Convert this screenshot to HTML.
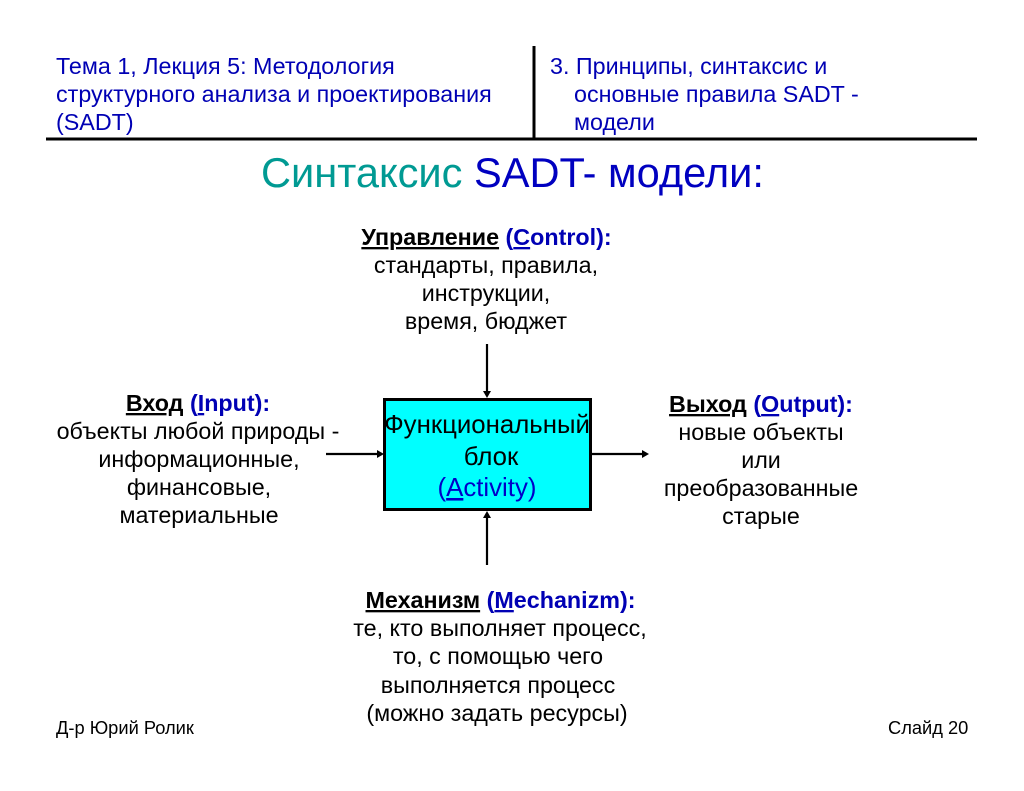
<!DOCTYPE html>
<html><head><meta charset="utf-8"><style>
html,body{margin:0;padding:0;background:#fff}
svg{display:block}
text{font-family:"Liberation Sans",sans-serif}
.h{font-size:23.3px;fill:#0000b4}
.b{font-size:23.3px;fill:#000;text-anchor:middle}
.t{font-size:23.3px;font-weight:bold;fill:#000;text-anchor:middle}
.blue{fill:#0000b4}
.f{font-size:18.3px;fill:#000}
</style></head><body>
<svg width="1024" height="791" viewBox="0 0 1024 791" xmlns="http://www.w3.org/2000/svg">
<rect width="1024" height="791" fill="#fff"/>
<rect x="46" y="137.5" width="931" height="3" fill="#000"/>
<rect x="532.5" y="46" width="3" height="92" fill="#000"/>
<text class="h" x="56" y="74">Тема 1, Лекция 5: Методология</text>
<text class="h" x="56" y="102">структурного анализа и проектирования</text>
<text class="h" x="56" y="130">(SADT)</text>
<text class="h" x="550" y="74">3. Принципы, синтаксис и</text>
<text class="h" x="574" y="102">основные правила SADT -</text>
<text class="h" x="574" y="130">модели</text>
<text x="261" y="187" style="font-size:41.6px;fill:#009a93">Синтаксис <tspan fill="#0000c0">SADT- модели:</tspan></text>

<text class="t" x="486.5" y="245"><tspan text-decoration="underline">Управление</tspan> <tspan class="blue">(<tspan text-decoration="underline">C</tspan>ontrol):</tspan></text>
<text class="b" x="486" y="273">стандарты, правила,</text>
<text class="b" x="486" y="301">инструкции,</text>
<text class="b" x="486" y="329">время, бюджет</text>

<text class="t" x="198" y="411"><tspan text-decoration="underline">Вход</tspan> <tspan class="blue">(<tspan text-decoration="underline">I</tspan>nput):</tspan></text>
<text class="b" x="198" y="439">объекты любой природы -</text>
<text class="b" x="199" y="467">информационные,</text>
<text class="b" x="199" y="495">финансовые,</text>
<text class="b" x="199" y="523">материальные</text>

<text class="t" x="761" y="412"><tspan text-decoration="underline">Выход</tspan> <tspan class="blue">(<tspan text-decoration="underline">O</tspan>utput):</tspan></text>
<text class="b" x="761" y="440">новые объекты</text>
<text class="b" x="761" y="468">или</text>
<text class="b" x="761" y="496">преобразованные</text>
<text class="b" x="761" y="524">старые</text>

<text class="t" x="500.5" y="608"><tspan text-decoration="underline">Механизм</tspan> <tspan class="blue">(<tspan text-decoration="underline">M</tspan>echanizm):</tspan></text>
<text class="b" x="500" y="636">те, кто выполняет процесс,</text>
<text class="b" x="498" y="664">то, с помощью чего</text>
<text class="b" x="498" y="693">выполняется процесс</text>
<text class="b" x="497" y="721">(можно задать ресурсы)</text>

<rect x="384.5" y="399.5" width="206" height="110" fill="#00ffff" stroke="#000" stroke-width="3"/>
<text x="487" y="433" style="font-size:25.8px;text-anchor:middle;fill:#000">Функциональный</text>
<text x="491" y="465" style="font-size:25.8px;text-anchor:middle;fill:#000">блок</text>
<text x="487" y="496" style="font-size:25.8px;text-anchor:middle;fill:#0000c8">(<tspan text-decoration="underline">A</tspan>ctivity)</text>

<g stroke="#000" stroke-width="2.2" fill="none">
<line x1="487" y1="344" x2="487" y2="394"/>
<line x1="326" y1="454" x2="380" y2="454"/>
<line x1="592" y1="454" x2="645" y2="454"/>
<line x1="487" y1="565" x2="487" y2="515"/>
</g>
<g fill="#000">
<polygon points="483,391 491,391 487,398"/>
<polygon points="377,450 384,454 377,458"/>
<polygon points="642,450 649,454 642,458"/>
<polygon points="483,518 491,518 487,511"/>
</g>
<text class="f" x="56" y="734">Д-р Юрий Ролик</text>
<text class="f" x="888" y="734">Слайд 20</text>
</svg>
</body></html>
